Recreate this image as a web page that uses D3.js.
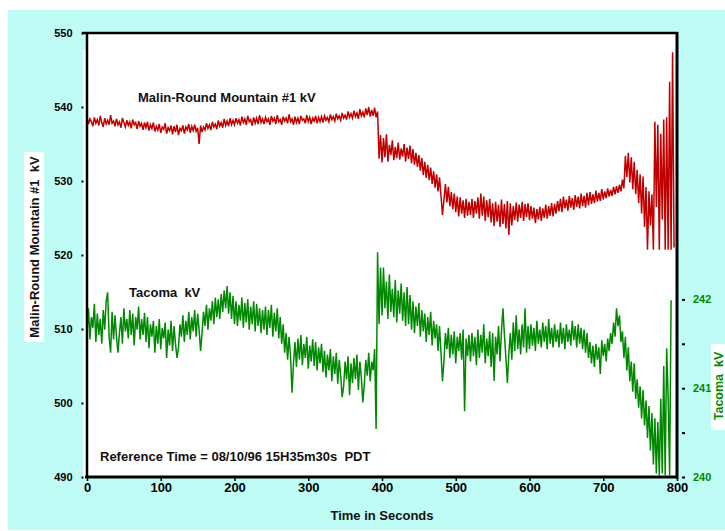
<!DOCTYPE html>
<html>
<head>
<meta charset="utf-8">
<script src="https://cdn.jsdelivr.net/npm/d3@7"></script>
<style>
  html, body { margin: 0; padding: 0; background: #ffffff; }
  svg { display: block; }
  text { font-family: "Liberation Sans", Arial, Helvetica, sans-serif; font-weight: bold; white-space: pre; }
</style>
</head>
<body>
<svg id="chart" width="725" height="531"></svg>
<script>
// ---- data ----
const seconds = d3.range(0, 797, 2); // sample times (s), every 2 s

const malinKV = [
  538.6,537.7,538.4,538.0,537.4,538.6,537.8,538.3,537.5,538.8,537.9,537.3,538.5,537.7,538.2,537.6,538.9,537.8,538.1,537.4,
  538.4,537.6,538.0,537.2,538.5,537.9,537.3,538.2,537.5,538.0,537.1,538.3,537.6,537.9,537.0,538.1,537.4,537.8,536.9,537.9,
  537.2,538.0,536.8,537.6,537.1,537.9,536.7,537.4,536.9,537.7,536.5,537.3,537.0,537.8,536.4,537.2,536.8,537.5,536.3,537.4,
  536.6,537.6,536.2,537.1,536.8,537.5,536.4,537.3,536.9,537.7,536.5,537.4,536.8,537.6,536.7,537.2,535.0,537.5,536.6,537.3,
  536.9,537.8,537.1,537.6,536.9,538.0,537.3,537.7,537.0,538.2,537.4,537.9,537.2,538.4,537.5,538.1,537.4,538.5,537.6,538.2,
  537.6,538.5,537.8,538.3,537.5,538.7,537.9,538.4,537.6,538.8,538.0,538.3,537.5,538.6,537.8,538.5,537.7,538.9,537.9,538.4,
  537.7,538.6,538.0,538.4,537.6,538.8,538.1,538.5,537.7,538.9,538.0,538.3,537.6,538.7,538.1,538.5,537.8,539.0,538.0,538.4,
  537.6,538.7,537.9,538.5,537.7,538.8,538.2,538.4,537.8,538.9,538.0,538.6,537.7,538.5,538.1,538.8,537.8,538.6,538.0,538.7,
  537.9,538.8,538.2,538.6,538.0,539.0,538.3,538.7,538.1,539.1,538.4,538.8,538.2,539.2,538.5,538.9,538.3,539.4,538.6,539.1,
  538.5,539.5,538.7,539.2,538.4,539.7,538.8,539.3,538.6,539.8,538.9,540.0,538.7,539.6,538.8,539.9,538.6,539.4,533.0,536.2,
  532.5,535.8,533.2,536.3,532.6,534.9,533.5,535.5,532.8,534.6,533.1,535.2,532.9,534.4,533.3,535.0,532.6,534.5,533.0,534.8,
  532.4,534.3,532.2,533.8,531.9,533.5,531.4,533.1,530.8,532.6,530.4,532.2,530.1,531.8,529.6,531.3,529.1,530.9,528.6,530.5,
  528.0,525.4,527.5,529.6,527.1,529.2,526.6,528.5,526.2,528.3,525.8,527.9,525.2,527.8,525.6,527.4,525.0,527.6,525.3,527.2,
  525.4,527.6,525.0,527.3,525.6,527.8,524.9,528.3,525.3,527.9,524.6,527.4,525.1,527.6,524.4,527.0,523.9,527.2,524.5,526.8,
  523.8,527.5,524.2,526.9,523.6,527.3,522.7,527.0,524.0,526.6,524.7,527.1,524.5,526.8,525.0,527.2,524.6,526.9,525.1,527.0,
  524.7,526.6,524.9,526.4,524.3,526.2,524.8,526.5,524.6,526.3,525.0,526.8,524.9,526.6,525.3,527.0,525.2,526.9,525.6,527.3,
  525.9,527.6,525.8,527.9,526.3,527.5,526.0,528.0,526.4,527.7,526.1,528.1,526.5,527.9,526.3,528.3,526.6,528.0,526.4,528.4,
  526.7,528.5,526.9,528.2,527.0,528.7,527.2,528.4,527.3,528.9,527.5,528.6,527.7,529.0,527.9,528.8,528.0,529.2,528.2,529.3,
  528.4,529.5,528.6,530.2,529.0,533.4,530.5,533.8,529.8,533.2,528.9,532.6,528.2,531.5,527.0,530.9,525.6,530.6,523.8,529.2,
  520.7,528.6,524.0,528.2,520.7,538.0,526.5,537.6,520.7,536.4,524.8,538.3,520.7,538.6,520.7,543.4,520.7,547.4,521.0
];

const tacomaKV = [
  241.62,241.90,241.55,241.80,241.68,241.95,241.52,241.84,241.60,241.78,241.50,241.88,241.66,241.98,242.08,241.58,241.40,241.86,241.55,241.82,
  241.58,241.40,241.62,241.80,241.50,241.90,241.64,241.78,241.56,241.88,241.60,241.84,241.48,241.80,241.66,241.92,241.55,241.78,241.60,241.85,
  241.52,241.80,241.45,241.72,241.58,241.76,241.40,241.70,241.50,241.78,241.44,241.68,241.56,241.74,241.34,241.66,241.48,241.76,241.42,241.70,
  241.50,241.34,241.45,241.72,241.58,241.82,241.52,241.76,241.60,241.86,241.55,241.80,241.64,241.88,241.58,241.84,241.66,241.42,241.62,241.86,
  241.70,241.94,241.66,241.90,241.76,241.98,241.72,242.02,241.80,242.00,241.78,242.06,241.86,242.10,241.90,242.15,241.84,242.08,241.78,242.04,
  241.72,241.98,241.70,241.94,241.76,242.02,241.68,241.96,241.74,242.00,241.66,241.92,241.72,241.98,241.64,241.95,241.70,241.90,241.62,241.88,
  241.66,241.92,241.60,241.88,241.68,241.94,241.58,241.85,241.64,241.90,241.56,241.80,241.50,241.72,241.40,241.62,241.32,241.58,241.36,240.95,
  241.28,241.52,241.24,241.56,241.32,241.60,241.26,241.50,241.34,241.58,241.22,241.48,241.30,241.55,241.25,241.52,241.20,241.46,241.28,241.50,
  241.18,241.42,241.12,241.38,241.20,241.44,241.08,241.36,241.16,241.40,241.05,241.32,241.14,240.90,241.02,241.30,241.10,241.36,240.92,241.28,
  241.06,241.34,241.10,241.38,240.98,241.30,241.12,240.84,241.04,241.32,241.14,241.40,241.08,241.30,241.20,241.44,240.54,242.53,241.72,242.36,
  241.82,242.36,241.90,242.20,241.78,242.28,241.86,242.12,241.80,242.22,241.74,242.10,241.84,242.18,241.76,242.08,241.70,242.14,241.72,242.05,
  241.66,241.98,241.62,241.92,241.70,241.96,241.58,241.88,241.64,241.84,241.52,241.80,241.60,241.86,241.48,241.76,241.56,241.72,241.42,241.70,
  241.40,241.08,241.30,241.62,241.44,241.68,241.34,241.60,241.38,241.64,241.28,241.58,241.42,241.62,241.32,241.66,240.74,241.56,241.36,241.60,
  241.30,241.62,241.36,241.58,241.26,241.66,241.34,241.60,241.40,241.72,241.28,241.56,241.36,241.64,241.24,241.62,241.08,241.58,241.38,241.70,
  241.30,241.64,241.90,241.60,241.34,241.06,241.40,241.62,241.32,241.74,241.42,241.82,241.44,241.66,241.38,241.72,241.46,241.90,241.40,241.70,
  241.44,241.72,241.48,241.68,241.42,241.76,241.50,241.66,241.46,241.74,241.52,241.70,241.44,241.78,241.50,241.68,241.46,241.72,241.52,241.66,
  241.46,241.74,241.50,241.68,241.44,241.72,241.52,241.66,241.48,241.76,241.54,241.70,241.46,241.72,241.50,241.68,241.44,241.66,241.40,241.62,
  241.34,241.52,241.28,241.48,241.24,241.50,241.32,241.46,241.16,241.54,241.36,241.50,241.30,241.56,241.42,241.62,241.50,241.74,241.58,241.90,
  241.70,241.82,241.52,241.64,241.34,241.58,241.20,241.46,241.08,241.30,240.96,241.28,240.88,241.10,240.78,241.02,240.66,240.98,240.58,240.86,
  240.44,240.80,240.30,240.72,240.14,240.66,240.04,240.62,240.02,240.88,240.04,241.25,240.02,241.45,240.90,240.02,241.99
];

const timeTicks = [0, 100, 200, 300, 400, 500, 600, 700, 800];
const malinTicks = [490, 500, 510, 520, 530, 540, 550];
const tacomaTicks = [240, 240.5, 241, 241.5, 242];

const titles = {
  malin: "Malin-Round Mountain #1 kV",
  tacoma: "Tacoma  kV",
  reference: "Reference Time = 08/10/96 15H35m30s  PDT",
  xAxis: "Time in Seconds",
  yLeft: "Malin-Round Mountain #1  kV",
  yRight: "Tacoma  kV"
};

// ---- layout ----
const W = 725, H = 531;
const L = 87, R = 677, T = 33, B = 477;
const RED = "#c00000", GREEN = "#008800", CYAN = "#c0fcf6";

const svg = d3.select("#chart");

// background
svg.append("rect").attr("x", 8).attr("y", 10).attr("width", W - 8).attr("height", H - 11).attr("fill", CYAN);
svg.append("rect").attr("x", 83).attr("y", 50).attr("width", R - 83).attr("height", B - 50).attr("fill", "#fff");
svg.append("rect").attr("x", L).attr("y", T).attr("width", R - L).attr("height", B - T).attr("fill", "#fff");

// scales
const x = d3.scaleLinear().domain([0, 800]).range([L, R]);
const yL = d3.scaleLinear().domain([490, 550]).range([B, T]);
const yR = d3.scaleLinear().domain([240, 245]).range([B, T]);

// lines
const malinData = malinKV.map((v, i) => [seconds[i], v]);
const tacomaData = tacomaKV.map((v, i) => [seconds[i], v]);

svg.append("path")
  .datum(tacomaData)
  .attr("fill", "none").attr("stroke", GREEN).attr("stroke-width", 1.5)
  .attr("d", d3.line().x(d => x(d[0])).y(d => yR(d[1])));

svg.append("path")
  .datum(malinData)
  .attr("fill", "none").attr("stroke", RED).attr("stroke-width", 1.5)
  .attr("d", d3.line().x(d => x(d[0])).y(d => yL(d[1])));

// frame
const frame = svg.append("g").attr("stroke", "#000").attr("fill", "none");
frame.append("line").attr("x1", 82).attr("x2", R + 1).attr("y1", T).attr("y2", T).attr("stroke-width", 2.5);
frame.append("line").attr("x1", L).attr("x2", L).attr("y1", T).attr("y2", B + 1).attr("stroke-width", 2.5);
frame.append("line").attr("x1", R).attr("x2", R).attr("y1", T - 1).attr("y2", B + 1.5).attr("stroke-width", 3);
frame.append("line").attr("x1", 85).attr("x2", R + 1).attr("y1", B).attr("y2", B).attr("stroke-width", 3);

// axes
const axL = svg.append("g").attr("transform", "translate(83.5,0)")
  .call(d3.axisLeft(yL).tickValues(malinTicks).tickSize(2).tickPadding(9).tickFormat(d3.format("d")));
axL.select(".domain").remove();
axL.selectAll("line").attr("stroke", "#000").attr("stroke-width", 2);
axL.selectAll("text").attr("font-size", 11).attr("fill", "#000")
  .style("font-family", '"Liberation Sans", Arial, sans-serif').style("font-weight", "bold");

const axB = svg.append("g").attr("transform", `translate(0,${B})`)
  .call(d3.axisBottom(x).tickValues(timeTicks).tickSize(4).tickPadding(2).tickFormat(d3.format("d")));
axB.select(".domain").remove();
axB.selectAll("line").attr("stroke", "#000").attr("stroke-width", 1.5);
axB.selectAll("text").attr("font-size", 13).attr("fill", "#000")
  .style("font-family", '"Liberation Sans", Arial, sans-serif').style("font-weight", "bold");

const axR = svg.append("g").attr("transform", "translate(682,0)")
  .call(d3.axisRight(yR).tickValues(tacomaTicks).tickSize(3).tickPadding(8)
    .tickFormat(d => Number.isInteger(d) ? String(d) : ""));
axR.select(".domain").remove();
axR.selectAll("line").attr("stroke", "#000").attr("stroke-width", 2);
axR.selectAll("text").attr("font-size", 11).attr("fill", GREEN)
  .style("font-family", '"Liberation Sans", Arial, sans-serif').style("font-weight", "bold");

// in-plot labels
svg.append("text").attr("x", 138).attr("y", 102).attr("font-size", 13).attr("fill", "#111").text(titles.malin);
svg.append("text").attr("x", 129).attr("y", 297).attr("font-size", 13).attr("fill", "#111").text(titles.tacoma);
svg.append("text").attr("x", 100).attr("y", 461).attr("font-size", 13).attr("fill", "#111").text(titles.reference);

// axis titles
svg.append("text").attr("x", (L + R) / 2).attr("y", 520).attr("text-anchor", "middle")
  .attr("font-size", 13).attr("fill", "#111").text(titles.xAxis);

svg.append("rect").attr("x", 24).attr("y", 152).attr("width", 20).attr("height", 190).attr("fill", "#fff");
svg.append("text").attr("transform", "translate(38.5,247) rotate(-90)").attr("text-anchor", "middle")
  .attr("font-size", 13).attr("fill", "#111").text(titles.yLeft);

svg.append("rect").attr("x", 711).attr("y", 344).attr("width", 14).attr("height", 86).attr("fill", "#fff");
svg.append("text").attr("transform", "translate(722.5,386) rotate(-90)").attr("text-anchor", "middle")
  .attr("font-size", 12.5).attr("fill", GREEN).text(titles.yRight);
</script>
</body>
</html>
